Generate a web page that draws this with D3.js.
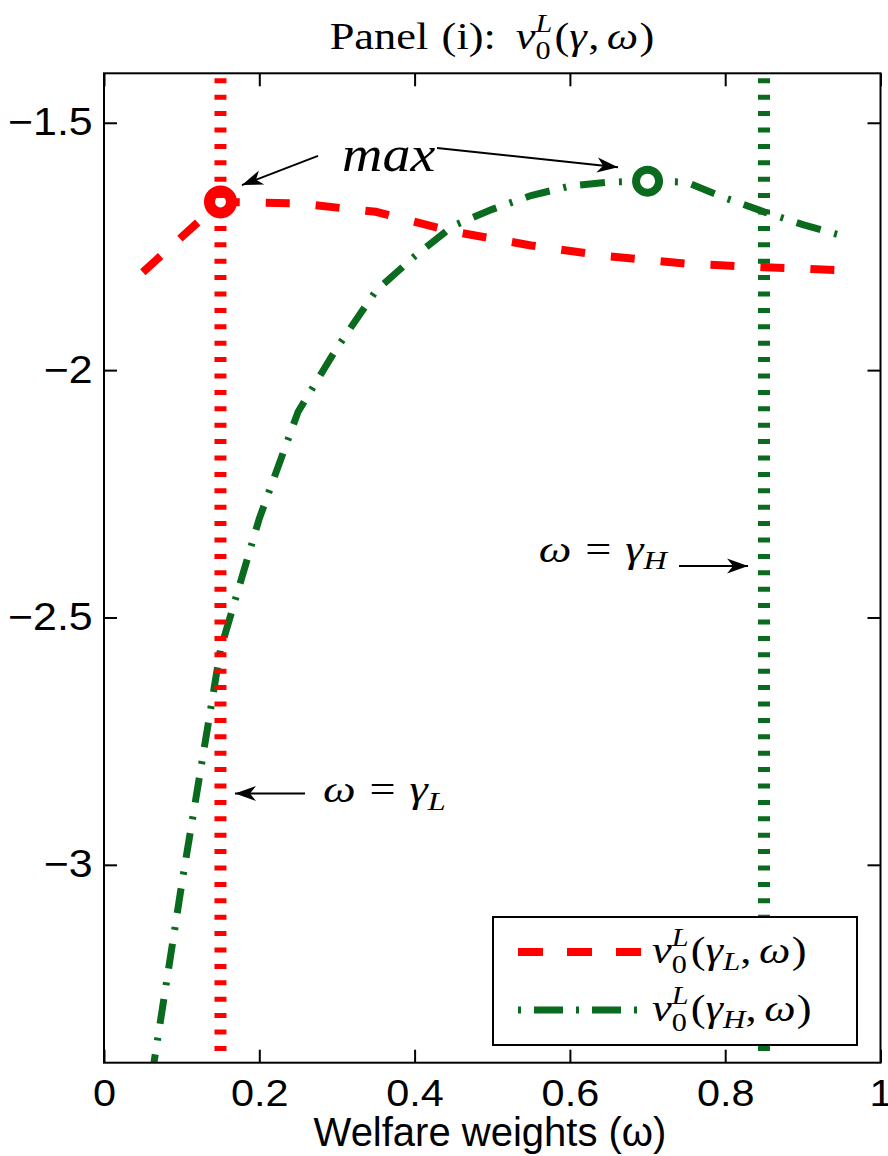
<!DOCTYPE html>
<html>
<head>
<meta charset="utf-8">
<script src="https://cdn.jsdelivr.net/npm/d3@7"></script>
<style>
  html, body { margin: 0; padding: 0; background: #fff; }
  svg { display: block; }
</style>
</head>
<body>
<svg id="chart" width="888" height="1156"></svg>
<script>
// ---------------- data ----------------
const omegaL = [0.05, 0.15, 0.25, 0.35, 0.45, 0.55, 0.65, 0.75, 0.85, 0.95];
const valueL = [-1.802, -1.660, -1.663, -1.680, -1.720, -1.748, -1.770, -1.785, -1.792, -1.798];

const omegaH = [0.05, 0.10, 0.15, 0.20, 0.25, 0.30, 0.35, 0.40, 0.45, 0.50,
                0.55, 0.60, 0.65, 0.70, 0.75, 0.80, 0.85, 0.90, 0.95];
const valueH = [-3.545, -3.040, -2.565, -2.300, -2.084, -1.955, -1.840, -1.770, -1.708, -1.675,
                -1.647, -1.628, -1.620, -1.618, -1.620, -1.652, -1.680, -1.706, -1.728];

const maxL = [0.15, -1.660];
const maxH = [0.70, -1.618];
const gammaL = 0.15;
const gammaH = 0.85;

const xDomain = [0, 1];
const yDomain = [-3.4, -1.4];
const xTickValues = [0, 0.2, 0.4, 0.6, 0.8, 1];
const xTickLabels = ["0", "0.2", "0.4", "0.6", "0.8", "1"];
const yTickValues = [-3, -2.5, -2, -1.5];
const yTickLabels = ["\u22123", "\u22122.5", "\u22122", "\u22121.5"];

// annotation anchors in data units
const arrowMaxL = [[0.2756, -1.567], [0.1777, -1.626]];
const arrowMaxH = [[0.4289, -1.551], [0.662, -1.590]];
const textMax = [0.3065, -1.597];
const arrowGH = [[0.7405, -2.396], [0.8294, -2.396]];
const textGH = [0.725, -2.388];
const arrowGL = [[0.2589, -2.856], [0.1687, -2.856]];
const textGL = [0.282, -2.874];

// ---------------- layout ----------------
const M = { left: 104, right: 880.5, top: 73.3, bottom: 1062.7 };
const RED = "#ff0000";
const GREEN = "#0a6b1f";
const SERIF = "'Liberation Serif', 'Times New Roman', serif";
const SANS = "'Liberation Sans', Arial, Helvetica, sans-serif";

const svg = d3.select("#chart");
svg.append("rect").attr("width", 888).attr("height", 1156).attr("fill", "#fff");

const x = d3.scaleLinear().domain(xDomain).range([M.left, M.right]);
const y = d3.scaleLinear().domain(yDomain).range([M.bottom, M.top]);

const defs = svg.append("defs");
defs.append("clipPath").attr("id", "plotclip")
  .append("rect").attr("x", M.left).attr("y", M.top)
  .attr("width", M.right - M.left).attr("height", M.bottom - M.top);

defs.append("marker").attr("id", "arrowhead")
  .attr("markerUnits", "userSpaceOnUse")
  .attr("viewBox", "-22 -9 24 18")
  .attr("markerWidth", 24).attr("markerHeight", 18)
  .attr("refX", 0).attr("refY", 0)
  .attr("orient", "auto")
  .append("path").attr("d", "M0,0 L-21,-7.5 L-15,0 L-21,7.5 Z").attr("fill", "#000");

// ---------------- axes ----------------
function styleAxis(g) {
  g.select(".domain").remove();
  g.selectAll(".tick line").attr("stroke", "#000").attr("stroke-width", 2);
  g.selectAll(".tick text").attr("fill", "#000").attr("font-family", SANS);
}

svg.append("g").attr("transform", `translate(0,${M.bottom})`)
  .call(d3.axisBottom(x).tickValues(xTickValues).tickFormat((d, i) => xTickLabels[i])
    .tickSizeInner(-13).tickSizeOuter(0).tickPadding(17))
  .call(styleAxis)
  .call(g => g.selectAll(".tick text").attr("font-size", 37).attr("dy", "0.71em")
    .attr("transform", "scale(1.12,1)"));

svg.append("g").attr("transform", `translate(0,${M.top})`)
  .call(d3.axisTop(x).tickValues(xTickValues).tickFormat("").tickSizeInner(-13).tickSizeOuter(0))
  .call(styleAxis);

svg.append("g").attr("transform", `translate(${M.left},0)`)
  .call(d3.axisLeft(y).tickValues(yTickValues).tickFormat((d, i) => yTickLabels[i])
    .tickSizeInner(-13).tickSizeOuter(0).tickPadding(10))
  .call(styleAxis)
  .call(g => g.selectAll(".tick text").attr("font-size", 38).attr("x", -10)
    .attr("transform", "scale(1.13,1)"));

svg.append("g").attr("transform", `translate(${M.right},0)`)
  .call(d3.axisRight(y).tickValues(yTickValues).tickFormat("").tickSizeInner(-13).tickSizeOuter(0))
  .call(styleAxis);

// ---------------- curves ----------------
const plot = svg.append("g").attr("clip-path", "url(#plotclip)");
const line = d3.line().x(d => x(d[0])).y(d => y(d[1]));

plot.append("path")
  .datum(omegaL.map((w, i) => [w, valueL[i]]))
  .attr("d", line).attr("fill", "none")
  .attr("stroke", RED).attr("stroke-width", 8)
  .attr("stroke-dasharray", "24,26");

plot.append("path")
  .datum(omegaH.map((w, i) => [w, valueH[i]]))
  .attr("d", line).attr("fill", "none")
  .attr("stroke", GREEN).attr("stroke-width", 7)
  .attr("stroke-dasharray", "25,14,3,14");

// max markers
const markers = [
  { p: maxL, c: RED, r: 11, sw: 11 },
  { p: maxH, c: GREEN, r: 11.5, sw: 8 }
];
markers.forEach(m => {
  plot.append("circle").attr("cx", x(m.p[0])).attr("cy", y(m.p[1])).attr("r", m.r)
    .attr("fill", "#fff").attr("stroke", m.c).attr("stroke-width", m.sw);
});

// vertical reference lines
[[gammaL, RED], [gammaH, GREEN]].forEach(([g, c]) => {
  plot.append("line")
    .attr("x1", x(g)).attr("x2", x(g))
    .attr("y1", y(yDomain[1])).attr("y2", y(yDomain[0]))
    .attr("stroke", c).attr("stroke-width", 12)
    .attr("stroke-dasharray", "5,11.4").attr("stroke-dashoffset", 11.4);
});

// frame
svg.append("rect").attr("x", M.left).attr("y", M.top)
  .attr("width", M.right - M.left).attr("height", M.bottom - M.top)
  .attr("fill", "none").attr("stroke", "#000").attr("stroke-width", 2);

// ---------------- math text helper ----------------
function mathText(parent, px, py, parts, size, anchor, sx) {
  sx = sx || 1;
  const g = parent.append("g").attr("font-family", SERIF).attr("fill", "#000");
  let cx = 0;
  parts.forEach(p => {
    if (p.gap !== undefined) { cx += p.gap * size; return; }
    if (p.sup !== undefined || p.sub !== undefined) {
      let w = 0;
      if (p.sup) {
        const t = g.append("text").attr("x", cx).attr("y", -0.45 * size)
          .attr("font-size", size * 0.68).attr("font-style", "italic").text(p.sup);
        w = Math.max(w, t.node().getComputedTextLength());
      }
      if (p.sub) {
        const t = g.append("text").attr("x", cx).attr("y", 0.27 * size)
          .attr("font-size", size * 0.68).text(p.sub);
        w = Math.max(w, t.node().getComputedTextLength());
      }
      cx += w + 0.05 * size; return;
    }
    const fs = p.s ? size * p.s : size;
    const t = g.append("text").attr("x", cx).attr("y", p.dy ? p.dy * size : 0)
      .attr("font-size", fs).attr("font-style", p.i ? "italic" : "normal").text(p.t);
    cx += t.node().getComputedTextLength() + (p.after || 0) * size;
  });
  const off = anchor === "middle" ? -cx / 2 : anchor === "end" ? -cx : 0;
  g.attr("transform", `translate(${px + off * sx},${py}) scale(${sx},1)`);
  return g;
}

// title
mathText(svg, 492, 49, [
  { t: "Panel" }, { gap: 0.3 }, { t: "(i):" }, { gap: 0.45 },
  { t: "v", i: true }, { sup: "L", sub: "0" },
  { t: "(" }, { t: "γ", i: true, after: 0.03 }, { t: "," }, { gap: 0.17 }, { t: "ω", i: true, after: 0.03 }, { t: ")" }
], 37, "middle", 1.2);

// x label
svg.append("text").attr("x", 490).attr("y", 1146)
  .attr("text-anchor", "middle").attr("font-family", SANS).attr("font-size", 40)
  .attr("fill", "#000").text("Welfare weights (ω)");

// ---------------- annotations ----------------
const ann = svg.append("g");
[arrowMaxL, arrowMaxH, arrowGH, arrowGL].forEach(a => {
  ann.append("line")
    .attr("x1", x(a[0][0])).attr("y1", y(a[0][1]))
    .attr("x2", x(a[1][0])).attr("y2", y(a[1][1]))
    .attr("stroke", "#000").attr("stroke-width", 2)
    .attr("marker-end", "url(#arrowhead)");
});

mathText(ann, x(textMax[0]), y(textMax[1]), [{ t: "max", i: true }], 50, "start", 1.12);
mathText(ann, x(textGH[0]), y(textGH[1]), [
  { t: "ω", i: true }, { gap: 0.3 }, { t: "=" }, { gap: 0.3 },
  { t: "γ", i: true }, { t: "H", i: true, s: 0.7, dy: 0.2 }
], 37, "end", 1.25);
mathText(ann, x(textGL[0]), y(textGL[1]), [
  { t: "ω", i: true }, { gap: 0.3 }, { t: "=" }, { gap: 0.3 },
  { t: "γ", i: true }, { t: "L", i: true, s: 0.7, dy: 0.2 }
], 37, "start", 1.25);

// ---------------- legend ----------------
const L = { x: 493, y: 917, w: 364, h: 128 };
const leg = svg.append("g");
leg.append("rect").attr("x", L.x).attr("y", L.y).attr("width", L.w).attr("height", L.h)
  .attr("fill", "#fff").attr("stroke", "#000").attr("stroke-width", 2);

const legendItems = [
  { color: RED, width: 8, dash: "25,24", sub: "L", row: 35 },
  { color: GREEN, width: 7, dash: "3,13,29,13", sub: "H", row: 93 }
];
legendItems.forEach(it => {
  leg.append("line")
    .attr("x1", L.x + 25).attr("x2", L.x + 149)
    .attr("y1", L.y + it.row).attr("y2", L.y + it.row)
    .attr("stroke", it.color).attr("stroke-width", it.width)
    .attr("stroke-dasharray", it.dash);
  mathText(leg, L.x + 159, L.y + it.row + 11, [
    { t: "v", i: true }, { sup: "L", sub: "0" },
    { t: "(" }, { t: "γ", i: true }, { t: it.sub, i: true, s: 0.7, dy: 0.2 },
    { t: "," }, { gap: 0.17 }, { t: "ω", i: true, after: 0.03 }, { t: ")" }
  ], 37, "start", 1.2);
});
</script>
</body>
</html>
